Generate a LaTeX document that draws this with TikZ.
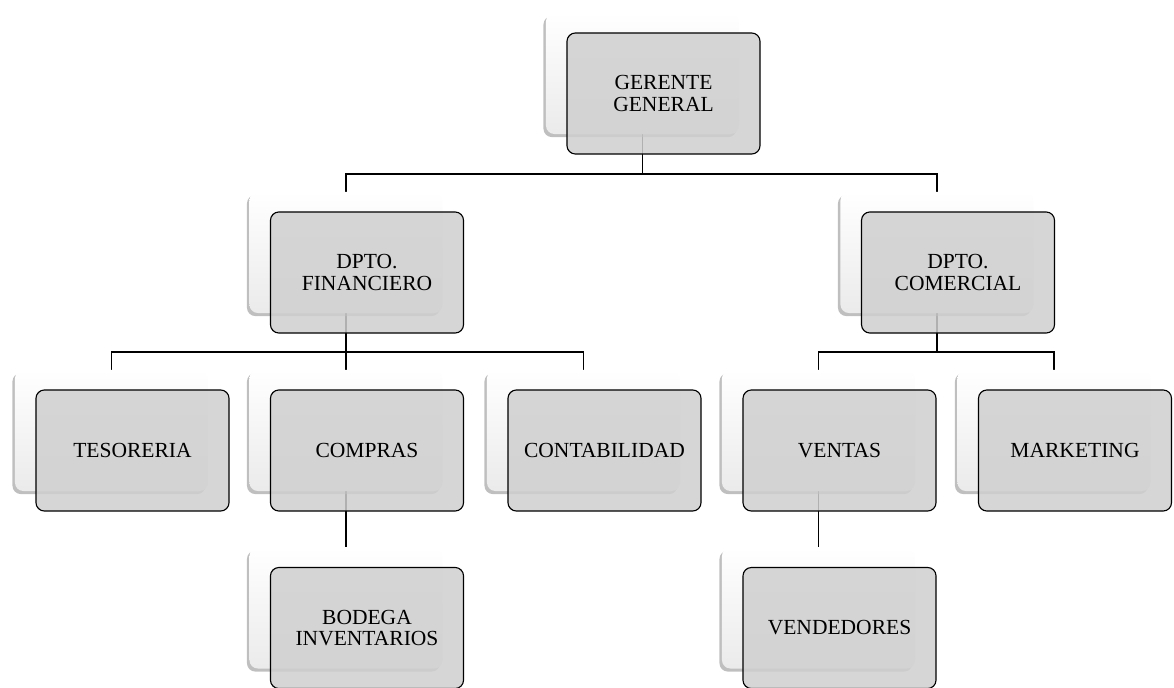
\documentclass[tikz,border=0pt]{standalone}
\usepackage{fontspec}
\setmainfont{Liberation Serif}
\usetikzlibrary{positioning,calc,shadows}
\pgfdeclarelayer{back}
\pgfsetlayers{back,main}

\begin{document}
\begin{tikzpicture}[
          x=0.025cm, y=-0.025cm,
          card/.style={rectangle, rounded corners=6pt, minimum width=4.825cm, minimum height=3.025cm, top color=white, bottom color=gray!16, drop shadow={shadow xshift=-1.8pt, shadow yshift=-2.2pt, opacity=0.5}},
          unit/.style={rectangle, draw=black, line width=0.8pt, rounded corners=6pt, fill=black!19, fill opacity=0.85, text opacity=1, draw opacity=1, minimum width=4.825cm, minimum height=3.025cm, align=center, font=\fontsize{15.3}{15}\selectfont},
          link/.style={draw, black, line width=1.3pt}
        ]
          \useasboundingbox (0,0) rectangle (1174,688);

          % back cards
          \node[card] (ger-b) at (642.5,73.5) {};
          \node[card] (fin-b) at (346,252.5) {};
          \node[card] (com-b) at (937,252.5) {};
          \node[card] (tes-b) at (111.5,430.5) {};
          \node[card] (comp-b) at (346,430.5) {};
          \node[card] (cont-b) at (583.5,430.5) {};
          \node[card] (ven-b) at (818.5,430.5) {};
          \node[card] (mkt-b) at (1054,430.5) {};
          \node[card] (bod-b) at (346,608) {};
          \node[card] (vdd-b) at (818.5,608) {};

          % junctions
          \coordinate (h1) at (642.5,174);
          \coordinate (h2) at (346,352);
          \coordinate (h3) at (937,352);

          % connectors (behind the boxes)
          \begin{pgfonlayer}{back}
            \draw[link] (ger-b.south) -- (h1);
            \draw[link] (fin-b.north) |- (h1) -| (com-b.north);
            \draw[link] (fin-b.south) -- (h2);
            \draw[link] (tes-b.north) |- (h2) -| (cont-b.north);
            \draw[link] (h2) -- (comp-b.north);
            \draw[link] (com-b.south) -- (h3);
            \draw[link] (ven-b.north) |- (h3) -| (mkt-b.north);
            \draw[link] (comp-b.south) -- (bod-b.north);
            \draw[link] (ven-b.south) -- (vdd-b.north);
          \end{pgfonlayer}

          % front boxes
          \node[unit] (ger) at ($(ger-b)+(21,20)$) {GERENTE\\GENERAL};
          \node[unit] (fin) at ($(fin-b)+(21,20)$) {DPTO.\\FINANCIERO};
          \node[unit] (com) at ($(com-b)+(21,20)$) {DPTO.\\COMERCIAL};
          \node[unit] (tes) at ($(tes-b)+(21,20)$) {TESORERIA};
          \node[unit] (comp) at ($(comp-b)+(21,20)$) {COMPRAS};
          \node[unit] (cont) at ($(cont-b)+(21,20)$) {CONTABILIDAD};
          \node[unit] (ven) at ($(ven-b)+(21,20)$) {VENTAS};
          \node[unit] (mkt) at ($(mkt-b)+(21,20)$) {MARKETING};
          \node[unit] (bod) at ($(bod-b)+(21,20)$) {BODEGA\\INVENTARIOS};
          \node[unit] (vdd) at ($(vdd-b)+(21,20)$) {VENDEDORES};

        \end{tikzpicture}
\end{document}
